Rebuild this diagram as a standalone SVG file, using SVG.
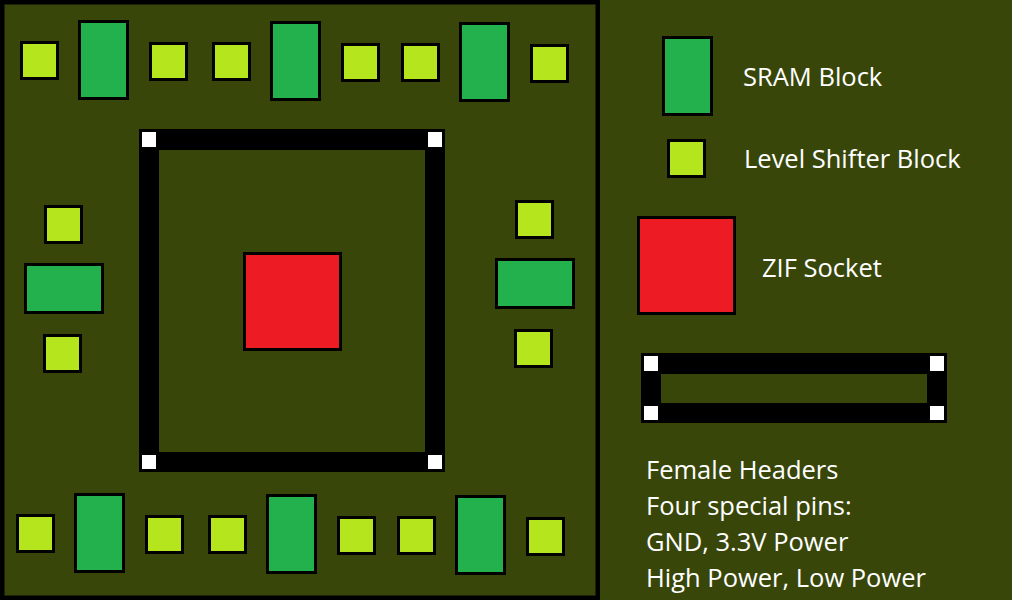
<svg xmlns="http://www.w3.org/2000/svg" width="1012" height="600" viewBox="0 0 1012 600">
<style>
.sram{fill:#22B14C;stroke:#000;stroke-width:3}
.ls{fill:#B5E61D;stroke:#000;stroke-width:3}
.zif{fill:#ED1C24;stroke:#000;stroke-width:3}
.pin{fill:#fff}
.frame{fill:#000}
.bg{fill:#39460A}
.lbl{font-family:"Open Sans","Noto Sans",sans-serif;font-size:25.5px;fill:#fff}
</style>
<rect class="bg" x="0" y="0" width="1012" height="600"/>
<rect x="2.25" y="2.25" width="595.5" height="595.5" fill="none" stroke="#000" stroke-width="4.5"/>
<g id="top-row">
<rect id="ls-t1" class="ls" x="21.5" y="42.5" width="36" height="36"/>
<rect id="sram-t1" class="sram" x="79.5" y="21.5" width="48" height="77"/>
<rect id="ls-t2" class="ls" x="150.5" y="43.5" width="36" height="36"/>
<rect id="ls-t3" class="ls" x="213.5" y="43.5" width="36" height="36"/>
<rect id="sram-t2" class="sram" x="271.5" y="22.5" width="48" height="77"/>
<rect id="ls-t4" class="ls" x="342.5" y="44.5" width="36" height="36"/>
<rect id="ls-t5" class="ls" x="402.5" y="44.5" width="36" height="36"/>
<rect id="sram-t3" class="sram" x="460.5" y="23.5" width="48" height="77"/>
<rect id="ls-t6" class="ls" x="531.5" y="45.5" width="36" height="36"/>
</g>
<g id="left-col">
<rect id="ls-l1" class="ls" x="45.5" y="206.5" width="36" height="36"/>
<rect id="sram-l1" class="sram" x="25.5" y="264.5" width="77" height="48"/>
<rect id="ls-l2" class="ls" x="44.5" y="335.5" width="36" height="36"/>
</g>
<g id="right-col">
<rect id="ls-r1" class="ls" x="516.5" y="201.5" width="36" height="36"/>
<rect id="sram-r1" class="sram" x="496.5" y="259.5" width="77" height="48"/>
<rect id="ls-r2" class="ls" x="515.5" y="330.5" width="36" height="36"/>
</g>
<g id="bottom-row">
<rect id="ls-b1" class="ls" x="17.5" y="515.5" width="36" height="36"/>
<rect id="sram-b1" class="sram" x="75.5" y="494.5" width="48" height="77"/>
<rect id="ls-b2" class="ls" x="146.5" y="516.5" width="36" height="36"/>
<rect id="ls-b3" class="ls" x="209.5" y="516.5" width="36" height="36"/>
<rect id="sram-b2" class="sram" x="267.5" y="495.5" width="48" height="77"/>
<rect id="ls-b4" class="ls" x="338.5" y="517.5" width="36" height="36"/>
<rect id="ls-b5" class="ls" x="398.5" y="517.5" width="36" height="36"/>
<rect id="sram-b3" class="sram" x="456.5" y="496.5" width="48" height="77"/>
<rect id="ls-b6" class="ls" x="527.5" y="518.5" width="36" height="36"/>
</g>
<g id="header-frame">
<rect class="frame" x="139" y="129" width="306" height="343"/>
<rect class="bg" x="159" y="150" width="266" height="302"/>
<rect class="pin" x="142" y="132" width="14" height="15"/>
<rect class="pin" x="428" y="132" width="14" height="15"/>
<rect class="pin" x="142" y="455" width="14" height="14"/>
<rect class="pin" x="428" y="455" width="14" height="14"/>
</g>
<g id="zif-socket">
<rect class="zif" x="244.5" y="253.5" width="96" height="96"/>
</g>
<g id="legend-sram">
<rect class="sram" x="663.5" y="37.5" width="48" height="77"/>
<text class="lbl" x="743" y="86">SRAM Block</text>
</g>
<g id="legend-ls">
<rect class="ls" x="668.5" y="140.5" width="36" height="36"/>
<text class="lbl" x="744" y="168">Level Shifter Block</text>
</g>
<g id="legend-zif">
<rect class="zif" x="638.5" y="217.5" width="96" height="96"/>
<text class="lbl" x="762" y="277">ZIF Socket</text>
</g>
<g id="legend-header">
<rect class="frame" x="641" y="353" width="306" height="70"/>
<rect class="bg" x="661" y="374" width="266" height="29"/>
<rect class="pin" x="644" y="356" width="14" height="15"/>
<rect class="pin" x="930" y="356" width="14" height="15"/>
<rect class="pin" x="644" y="406" width="14" height="14"/>
<rect class="pin" x="930" y="406" width="14" height="14"/>
<text class="lbl" x="646" y="479">Female Headers</text>
<text class="lbl" x="646" y="515">Four special pins:</text>
<text class="lbl" x="646" y="551">GND, 3.3V Power</text>
<text class="lbl" x="646" y="587">High Power, Low Power</text>
</g>
</svg>
